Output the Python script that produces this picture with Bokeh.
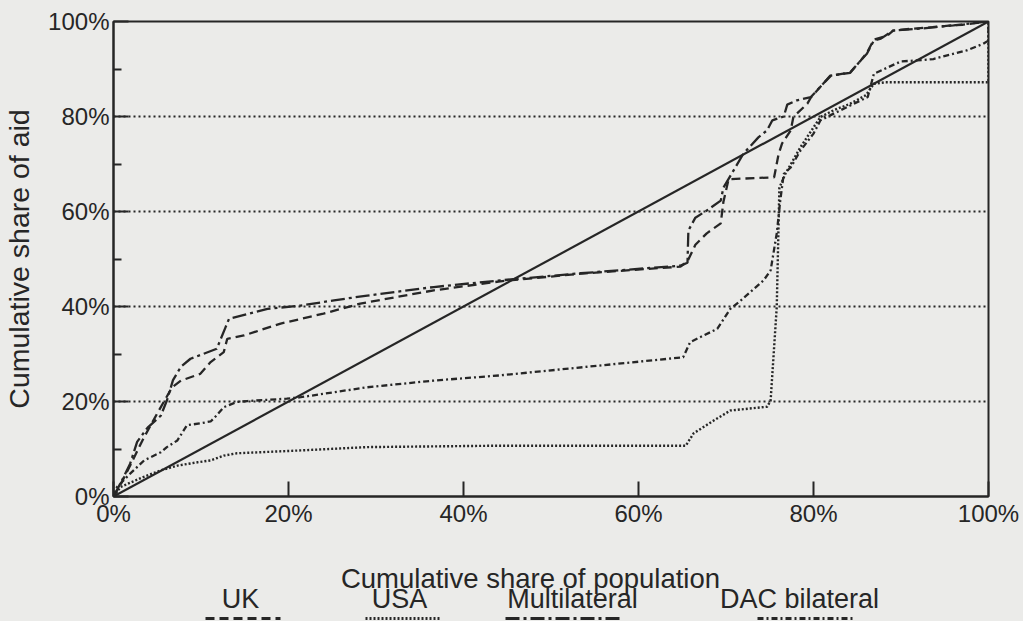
from bokeh.plotting import figure
from bokeh.models import FixedTicker, PrintfTickFormatter, Range1d
from bokeh.layouts import column
from bokeh.core.properties import value
from bokeh.embed import file_html
from bokeh.resources import INLINE

# ---------------- data (percent) ----------------
equality_x = [0, 100]
equality_y = [0, 100]

uk_x = [0, 0.8, 2.0, 3.5, 5.0, 6.7, 7.7, 9.9, 11.1, 12.6, 13.0, 14.9, 19.1, 24.0, 28.2,
        36.6, 44.2, 53.4, 64.8, 65.6, 66.5, 67.8, 69.4, 69.7, 70.3, 75.5, 76.0, 76.4,
        77.4, 77.7, 79.3, 79.7, 81.1, 82.0, 84.2, 85.4, 86.1, 86.9, 88.4, 89.1, 91.4,
        93.6, 95.9, 97.0, 100]
uk_y = [0, 2.5, 6.9, 12.5, 17.5, 23.0, 24.4, 25.8, 28.3, 30.4, 33.2, 33.9, 36.4, 38.5, 40.6,
        43.4, 45.3, 46.9, 48.4, 49.5, 53.0, 55.4, 57.5, 62.0, 66.8, 67.2, 72.0, 74.3,
        77.1, 79.9, 82.7, 84.0, 86.9, 88.6, 89.3, 91.8, 93.4, 96.2, 97.0, 98.1, 98.5,
        98.8, 99.2, 99.3, 100]

multi_x = [0, 1.0, 1.9, 2.7, 3.9, 5.4, 6.1, 6.8, 7.7, 8.8, 11.8, 12.8, 13.2, 17.6, 21.4,
           25.2, 29.0, 36.6, 44.2, 53.4, 64.8, 65.6, 65.7, 66.5, 67.8, 69.4, 69.7, 72.0,
           73.7, 74.7, 75.3, 76.6, 77.0, 78.1, 79.7, 81.1, 81.9, 83.4, 84.2, 85.4, 86.1,
           86.9, 87.7, 89.1, 92.2, 96.0, 100]
multi_y = [0, 3.5, 6.9, 11.5, 14.5, 17.0, 20.2, 24.5, 27.3, 29.0, 31.1, 35.6, 37.4, 39.5, 40.2,
           41.3, 42.3, 44.1, 45.5, 47.0, 48.6, 49.2, 56.0, 58.7, 60.2, 62.3, 65.0, 72.2,
           75.6, 77.1, 79.2, 80.0, 82.5, 83.4, 84.1, 86.9, 88.6, 89.0, 89.2, 91.8, 93.2,
           96.0, 96.4, 98.1, 98.5, 99.2, 100]

usa_x = [0, 0.8, 3.4, 5.4, 7.3, 9.6, 11.1, 12.6, 14.1, 21.4, 29.0, 44.2, 65.4, 66.3, 68.6,
         70.5, 74.7, 75.1, 75.8, 76.1, 76.8, 78.5, 80.0, 80.8, 82.3, 84.2, 86.0, 86.9,
         88.2, 100, 100]
usa_y = [0, 2.0, 4.1, 5.5, 6.5, 7.2, 7.6, 8.6, 9.1, 9.7, 10.4, 10.7, 10.7, 13.3, 16.0,
         18.1, 18.9, 20.2, 39.9, 65.0, 68.0, 73.5, 77.7, 79.9, 81.3, 82.7, 84.5, 86.9,
         87.2, 87.2, 100]

dac_x = [0, 0.4, 1.9, 3.5, 5.4, 6.1, 7.3, 8.4, 9.9, 11.1, 11.8, 12.6, 14.1, 15.3, 19.8,
         21.4, 29.0, 36.6, 44.2, 65.1, 65.9, 69.0, 70.5, 71.7, 74.3, 75.1, 75.8, 76.2,
         76.6, 77.4, 78.5, 80.0, 80.8, 82.3, 86.2, 86.9, 90.0, 91.8, 93.7, 97.5, 99.4,
         100, 100]
dac_y = [0, 2.0, 4.8, 7.6, 9.3, 10.4, 11.8, 15.0, 15.4, 15.8, 17.1, 18.8, 19.9, 20.1, 20.6,
         20.9, 23.0, 24.4, 25.5, 29.3, 32.5, 35.3, 39.5, 41.3, 45.5, 47.6, 55.4, 62.3,
         67.9, 69.3, 72.8, 76.4, 79.2, 80.6, 84.1, 89.0, 91.6, 91.8, 92.1, 93.9, 95.3,
         96.0, 100]

series_names = ["UK", "USA", "Multilateral", "DAC bilateral"]
tick_values = [0, 20, 40, 60, 80, 100]
minor_tick_values = [10, 30, 50, 70, 90]
x_title = "Cumulative share of population"
y_title = "Cumulative share of aid"

# ---------------- styling ----------------
BG = "#ebebe9"
INK = "#262626"
FONT = "Liberation Sans"
W = 1023
BL, BR = 113, 35
styles = {
    "UK": dict(line_dash="9 5", line_width=2.3),
    "USA": dict(line_dash="2 2", line_width=2.4),
    "Multilateral": dict(line_dash="14 4 3 4", line_width=2.3),
    "DAC bilateral": dict(line_dash="6 3 2 3", line_width=2.3),
}

p = figure(width=W, height=530, x_range=Range1d(0, 100), y_range=Range1d(0, 100),
           output_backend="svg", toolbar_location=None,
           min_border_left=BL, min_border_right=BR, min_border_top=21, min_border_bottom=34)
p.background_fill_color = BG
p.border_fill_color = BG
p.outline_line_color = INK
p.outline_line_width = 2

xt = FixedTicker(ticks=tick_values)
yt = FixedTicker(ticks=tick_values, minor_ticks=minor_tick_values)
p.xaxis.ticker = xt
p.yaxis.ticker = yt
p.xgrid.visible = False
p.ygrid.ticker = yt
p.ygrid.grid_line_color = INK
p.ygrid.grid_line_dash = "2 3"
p.ygrid.grid_line_width = 2

for ax in (p.xaxis[0], p.yaxis[0]):
    ax.formatter = PrintfTickFormatter(format="%d%%")
    ax.axis_line_color = INK
    ax.axis_line_width = 2
    ax.major_tick_line_color = INK
    ax.major_tick_line_width = 2
    ax.major_tick_in = 15
    ax.major_tick_out = 0
    ax.minor_tick_line_color = INK
    ax.minor_tick_line_width = 2
    ax.minor_tick_in = 8
    ax.minor_tick_out = 0
    ax.major_label_text_font = FONT
    ax.major_label_text_font_size = "24px"
    ax.major_label_text_color = INK
    ax.axis_label_text_font = FONT
    ax.axis_label_text_font_size = "28.5px"
    ax.axis_label_text_font_style = "normal"
    ax.axis_label_text_color = INK

p.yaxis.axis_label = y_title
p.xaxis.major_label_standoff = 3
p.yaxis.major_label_standoff = 4
p.yaxis.axis_label_standoff = 10
p.xaxis.minor_tick_in = 0

p.line(equality_x, equality_y, line_color=INK, line_width=2.2)

data = {
    "UK": (uk_x, uk_y),
    "USA": (usa_x, usa_y),
    "Multilateral": (multi_x, multi_y),
    "DAC bilateral": (dac_x, dac_y),
}
for name in series_names:
    xs, ys = data[name]
    p.line(xs, ys, line_color=INK, **styles[name])

# ---------------- lower strip: x-axis title and legend ----------------
# its frame is aligned with the main frame; x range chosen so x = page pixel
H2 = 91
q = figure(width=W, height=H2, x_range=Range1d(BL, W - BR), y_range=Range1d(H2, 0),
           output_backend="svg", toolbar_location=None,
           x_axis_type=None, y_axis_type=None,
           min_border_left=BL, min_border_right=BR, min_border_top=0, min_border_bottom=0)
q.background_fill_color = BG
q.border_fill_color = BG
q.outline_line_color = None
q.grid.visible = False

q.text(x=[530], y=[48], text=[x_title], text_font=value(FONT), text_font_size="27.5px",
       text_color=INK, text_align="center", text_baseline="middle")

legend_label_x = {"UK": 240, "USA": 399, "Multilateral": 572, "DAC bilateral": 799}
legend_sym = {"UK": (205, 280), "USA": (365, 440), "Multilateral": (505, 620),
              "DAC bilateral": (757, 855)}
for name in series_names:
    q.text(x=[legend_label_x[name]], y=[68], text=[name], text_font=value(FONT),
           text_font_size="27px", text_color=INK, text_align="center", text_baseline="middle")
    x0, x1 = legend_sym[name]
    st = dict(styles[name])
    st["line_width"] = 2.8
    q.line([x0, x1], [88, 88], line_color=INK, **st)

layout = column(p, q, spacing=0, styles={"background-color": BG})
open("out.html", "w").write(file_html(layout, INLINE))
